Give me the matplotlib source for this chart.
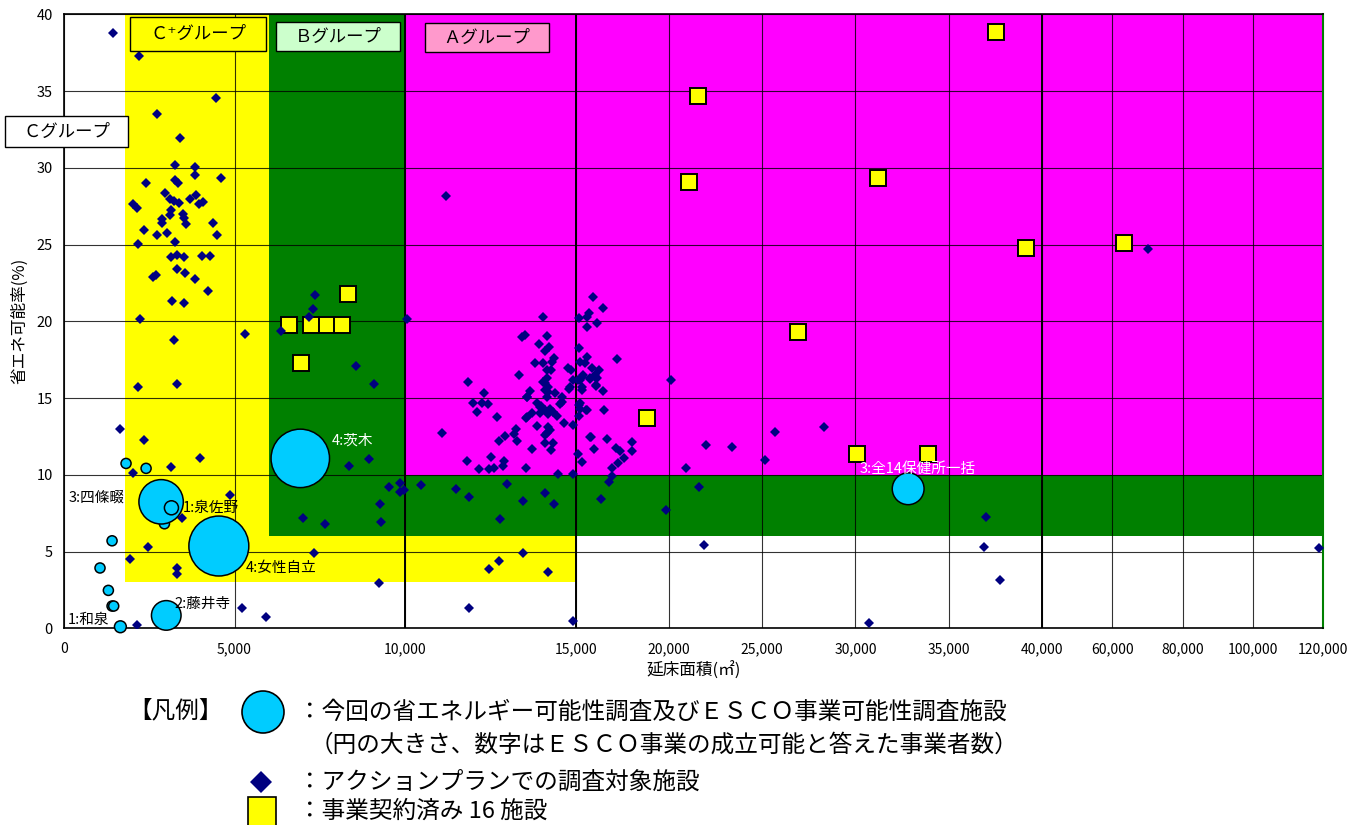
import numpy as np
import matplotlib
matplotlib.use('Agg')
import matplotlib.pyplot as plt
from matplotlib.patches import Rectangle, Circle

plt.rcParams['font.family'] = ['Noto Sans CJK JP', 'DejaVu Sans']

# アクションプランでの調査対象施設 (延床面積 m2 , 省エネ可能率 %)
diamond_x = [
    # C+ group upper part
    1448, 2192, 4463, 2731, 3396, 3269, 3827, 3827, 4590, 2408, 3269, 3337, 2956, 3103,
    3230, 3376, 3680, 3856, 3954, 4071, 2016, 2153, 3142, 3122, 3484, 3504, 3582, 2877,
    2877, 4375, 4482, 2349, 2721, 3024, 3269, 2163, 3132, 3308, 3523, 4052, 4267, 3308,
    3562, 2603, 2701, 3836, 4228, 3171, 3523, 2241, 7360, 7301, 7184,
    # lower left
    3220, 5313, 6377, 2172, 3307, 8573, 1633, 2358, 3992, 3141, 2035, 8357, 4863, 3454,
    7007, 7643, 2475, 7320, 1927, 3326, 3326, 5225, 5920, 2133,
    10070, 9091, 11097, 8944, 9531, 9845, 9845, 9962, 10461, 11489, 9277, 9306, 9228,
    # A group cluster
    11195, 15913, 16484, 14033, 15200, 15717, 15592, 15592, 16127, 13417, 13515, 14161,
    13935, 14209, 14112, 15200, 17220, 15592, 14366, 14298, 13818, 14053, 15235, 15503,
    14767, 14865, 14151, 14268, 15860, 16270, 13339, 11851, 15414, 15235, 14914, 16092,
    14053, 14151, 16092, 15770, 14816, 15325, 16449, 12311, 13661, 14102, 14395, 13583,
    14151, 14591, 11978, 12242, 12438, 12115, 12683, 13955, 14249, 14591, 15200, 15592,
    16520, 13710, 13955, 14444, 15200,
    15326, 15144, 16038, 16130, 15771, 14100, 14180, 14200, 14828, 15326, 16092, 13564,
    13858, 14000, 14100, 14200, 14346, 14543, 15235, 15235, 15557, 13564, 14199, 14102,
    15771,
    13544, 13877, 14151, 14249, 14660, 14934, 13241, 13192, 12937, 12761, 13290, 14112,
    14327, 13730, 14268, 15111, 15342, 15838, 16677, 15963, 17160, 17374, 18006, 18006,
    17596, 17290, 16939, 11802, 12516, 12898, 12859, 12614, 12458, 12164, 13544, 14494,
    14934, 16966, 16806, 11870, 12976, 13446, 14102, 14366, 12781, 16342, 19838, 13466,
    12741, 12448, 14190, 11861, 14934, 20140,
    # right side
    22015, 23389, 20909, 21622, 21908, 25672, 28294, 25173, 30720, 36983, 36876, 37732,
    70227, 118857,
]
diamond_y = [
    38.78, 37.28, 34.55, 33.53, 31.94, 30.2, 30.05, 29.51, 29.31, 29.0, 29.23, 29.0, 28.38, 27.99,
    27.84, 27.73, 27.99, 28.21, 27.62, 27.77, 27.62, 27.4, 27.25, 26.95, 26.99, 26.71, 26.36, 26.69,
    26.43, 26.43, 25.64, 25.95, 25.6, 25.75, 25.15, 25.01, 24.19, 24.3, 24.19, 24.25, 24.25, 23.43,
    23.17, 22.9, 23.02, 22.73, 21.97, 21.3, 21.17, 20.15, 21.69, 20.8, 20.3,
    18.78, 19.17, 19.39, 15.69, 15.91, 17.08, 12.98, 12.28, 11.11, 10.5, 10.09, 10.57, 8.66, 7.16,
    7.18, 6.79, 5.29, 4.92, 4.53, 3.92, 3.53, 1.32, 0.73, 0.23,
    20.13, 15.89, 12.7, 11.01, 9.23, 9.49, 8.88, 9.01, 9.36, 9.1, 8.1, 6.92, 2.93,
    28.19, 21.56, 20.89, 20.28, 20.24, 20.52, 20.3, 19.65, 19.87, 19.0, 19.11, 19.02,
    18.52, 18.35, 18.07, 18.24, 17.57, 17.7, 17.59, 17.37, 17.27, 17.31, 17.37, 17.27,
    16.98, 16.83, 16.83, 16.83, 16.94, 16.83, 16.5, 16.03, 16.5, 16.18, 16.18, 16.29,
    16.07, 16.29, 15.85, 16.22, 15.61, 15.53, 15.48, 15.35, 15.48, 15.53, 15.35, 15.05,
    15.09, 15.05, 14.66, 14.7, 14.6, 14.09, 13.79, 14.4, 14.27, 14.73, 14.55, 14.23,
    14.23, 14.05, 14.0, 13.83, 13.83,
    16.39, 16.18, 16.5, 16.29, 16.29, 16.0, 15.7, 15.4, 15.74, 15.74, 15.79, 15.09,
    14.7, 14.5, 14.2, 13.95, 14.1, 14.61, 14.66, 14.3, 14.22, 13.78, 13.13, 12.59,
    12.48,
    13.73, 13.2, 12.71, 12.92, 13.4, 13.25, 12.99, 12.64, 12.53, 12.21, 12.21, 12.05,
    12.05, 11.68, 11.62, 11.36, 10.86, 12.45, 12.36, 11.68, 11.73, 11.58, 12.16, 11.55,
    11.08, 10.75, 10.43, 10.9, 11.14, 10.92, 10.58, 10.43, 10.36, 10.36, 10.47, 10.03,
    10.03, 9.93, 9.56, 8.54, 9.38, 8.3, 8.8, 8.08, 7.1, 8.43, 7.71, 4.93,
    4.39, 3.89, 3.67, 1.3, 0.5, 16.2,
    11.94, 11.81, 10.42, 9.22, 5.42, 12.81, 13.13, 10.94, 0.32, 7.23, 5.32, 3.12,
    24.69, 5.2,
]

# 事業契約済み 16 施設
square_x = [8327, 6595, 7251, 7711, 8161, 6957, 18821, 30061, 33897, 26939,
            37552, 21557, 21076, 31193, 39153, 63456]
square_y = [21.78, 19.76, 19.76, 19.76, 19.76, 17.3, 13.7, 11.35, 11.35, 19.3,
            38.85, 34.66, 29.05, 29.31, 24.75, 25.12]

# 今回の調査施設 (円の大きさ)
bubble_x = [1819, 2407, 2945, 1409, 1056, 1301, 1409, 1457,
            2847, 3150, 4540, 6928, 2998, 1653, 32826]
bubble_y = [10.74, 10.42, 6.81, 5.7, 3.93, 2.47, 1.45, 1.45,
            8.24, 7.85, 5.36, 11.07, 0.84, 0.1, 9.09]
bubble_size = [0.68, 0.68, 0.68, 0.68, 0.68, 0.68, 0.68, 0.68,
               3.0, 0.95, 4.05, 3.95, 2.0, 0.8, 2.15]
bubble_label = ['', '', '', '', '', '', '', '',
                '3:四條畷', '1:泉佐野', '4:女性自立', '4:茨木', '2:藤井寺', '1:和泉', '3:全14保健所一括']

# グループ範囲 (x0, x1, y0, y1)
group_c_plus = (1800, 15000, 3, 40)
group_b = (6000, 120000, 6, 40)
group_a = (10000, 120000, 10, 40)

x_ticks = [0, 5000, 10000, 15000, 20000, 25000, 30000, 35000, 40000,
           60000, 80000, 100000, 120000]
y_ticks = [0, 5, 10, 15, 20, 25, 30, 35, 40]

# 横軸は3区間の折れ線スケール
xb = np.array([0, 15000, 40000, 120000], dtype=float)
pb = np.array([0, 511.6, 978.0, 1259.0])
s0 = (pb[1] - pb[0]) / (xb[1] - xb[0])
s2 = (pb[3] - pb[2]) / (xb[3] - xb[2])


def fwd(x):
    x = np.asarray(x, dtype=float)
    y = np.interp(x, xb, pb)
    y = np.where(x < xb[0], pb[0] + (x - xb[0]) * s0, y)
    y = np.where(x > xb[-1], pb[-1] + (x - xb[-1]) * s2, y)
    return y


def inv(p):
    p = np.asarray(p, dtype=float)
    x = np.interp(p, pb, xb)
    x = np.where(p < pb[0], xb[0] + (p - pb[0]) / s0, x)
    x = np.where(p > pb[-1], xb[-1] + (p - pb[-1]) / s2, x)
    return x


W, H = 1363, 825
fig = plt.figure(figsize=(W / 100, H / 100), dpi=100)
ax = fig.add_axes([64 / W, (H - 628.3) / H, 1259 / W, 614 / H])
ax.set_xscale('function', functions=(fwd, inv))
ax.set_xlim(0, 120000)
ax.set_ylim(0, 40)


def region(g, color):
    x0, x1, y0, y1 = g
    ax.add_patch(Rectangle((x0, y0), x1 - x0, y1 - y0, facecolor=color,
                           edgecolor='none', zorder=0.2))


region(group_c_plus, '#FFFF00')
region(group_b, '#008000')
region(group_a, '#FF00FF')

ax.set_xticks(x_ticks)
ax.set_xticklabels([f'{v:,}' for v in x_ticks], fontsize=10)
ax.set_yticks(y_ticks)
ax.set_yticklabels([str(v) for v in y_ticks], fontsize=10.5)
ax.tick_params(length=0, pad=8)
ax.tick_params(axis='x', pad=10)
ax.set_axisbelow(True)
ax.grid(True, color='black', lw=0.8, alpha=0.8)
for xv in [10000, 15000, 40000]:
    ax.axvline(xv, color='black', lw=1.4, zorder=0.6)
for s in ['left', 'bottom', 'top']:
    ax.spines[s].set_color('black')
    ax.spines[s].set_linewidth(1.2)
ax.spines['right'].set_color('#008000')
ax.spines['right'].set_linewidth(1.5)

ax.set_xlabel('延床面積(㎡)', fontsize=12, labelpad=4)
ax.set_ylabel('省エネ可能率(%)', fontsize=12, labelpad=6)

ax.plot(square_x, square_y, 's', ms=11, mfc='#FFFF00', mec='black', mew=1.4,
        ls='none', zorder=3)
ax.plot(diamond_x, diamond_y, 'D', ms=4.6, color='#000080', mew=0,
        ls='none', zorder=4)

r_pt = np.array(bubble_size) * 7.4 * 0.72
ax.scatter(bubble_x, bubble_y, s=(2 * r_pt) ** 2, c='#00CCFF', edgecolors='black',
           linewidths=1.1, zorder=5, clip_on=False)

label_style = {
    '3:四條畷': ((-36, 4), 'right', 'black'),
    '1:泉佐野': ((11, 0), 'left', 'black'),
    '4:女性自立': ((27, -22), 'left', 'black'),
    '4:茨木': ((31, 18), 'left', 'white'),
    '2:藤井寺': ((8, 12), 'left', 'black'),
    '1:和泉': ((-11, 7), 'right', 'black'),
    '3:全14保健所一括': ((10, 20), 'center', 'white'),
}
for bx, by, lab in zip(bubble_x, bubble_y, bubble_label):
    if not lab:
        continue
    off, ha, col = label_style[lab]
    ax.annotate(lab, (bx, by), xytext=off, textcoords='offset pixels',
                ha=ha, va='center', fontsize=10.5, color=col, zorder=6)

# 注記用の重ね軸 (ピクセル座標)
lax = fig.add_axes([0, 0, 1, 1], zorder=5)
lax.set_xlim(0, W)
lax.set_ylim(H, 0)
lax.axis('off')
lax.patch.set_alpha(0)


def label_box(x0, y0, x1, y1, text, fc):
    lax.add_patch(Rectangle((x0, y0), x1 - x0, y1 - y0, facecolor=fc,
                            edgecolor='black', lw=1.0))
    lax.text((x0 + x1) / 2, (y0 + y1) / 2, text, ha='center', va='center', fontsize=12.5)


label_box(130, 17, 266, 51, 'Ｃ⁺グループ', '#FFFF00')
label_box(276, 22, 400, 51, 'Ｂグループ', '#CCFFCC')
label_box(425, 23, 549, 52, 'Ａグループ', '#FF99CC')
label_box(5, 116, 128, 147, 'Ｃグループ', 'white')

# 凡例
fs = 17
lax.text(128, 711, '【凡例】', ha='left', va='center', fontsize=fs)
lax.add_patch(Circle((263, 712), 21, facecolor='#00CCFF', edgecolor='black', lw=1.2))
lax.text(298, 712, '：今回の省エネルギー可能性調査及びＥＳＣＯ事業可能性調査施設',
         ha='left', va='center', fontsize=fs)
lax.text(310, 745, '（円の大きさ、数字はＥＳＣＯ事業の成立可能と答えた事業者数）',
         ha='left', va='center', fontsize=fs)
lax.plot([261], [782], 'D', ms=11, color='#000080', mew=0)
lax.text(298, 782, '：アクションプランでの調査対象施設', ha='left', va='center', fontsize=fs)
lax.add_patch(Rectangle((248, 797), 28, 40, facecolor='#FFFF00', edgecolor='black', lw=1.2))
lax.text(298, 811, '：事業契約済み 16 施設', ha='left', va='center', fontsize=fs)

fig.savefig('out.png', dpi=100)
